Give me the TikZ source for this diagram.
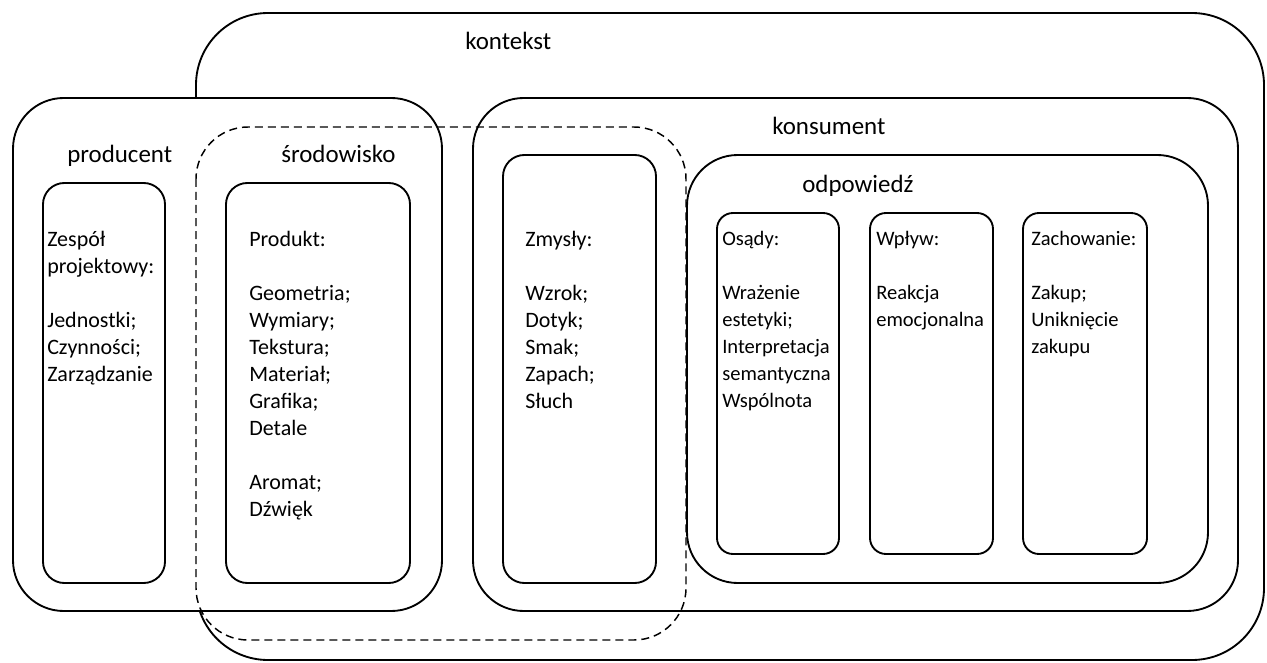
\documentclass[tikz,border=0pt]{standalone}
\usepackage{fontspec}
\setmainfont{Carlito}
\usepackage{tikz}

\begin{document}
\begin{tikzpicture}[x=0.75pt,y=0.75pt,yscale=-1,xscale=1,
	frame/.style={draw, line width=1.4pt, fill=white},
	lbl/.style={anchor=base west, inner sep=0pt, font=\fontsize{18.7}{22}\selectfont},
	txt/.style={anchor=north west, inner sep=0pt, align=left, font=\fontsize{15.4}{20.25}\selectfont, execute at begin node=\strut},
	bigtxt/.style={txt, font=\fontsize{16.5}{20.25}\selectfont}]
	\useasboundingbox (0,0) rectangle (1267,663);
	
	%Rounded Rect [kontekst]
	\draw [frame, rounded corners=54pt] (196,13) rectangle (1264,660);
	%Rounded Rect [producent]
	\draw [frame, rounded corners=38pt] (13,98) rectangle (442,611);
	%Rounded Rect [konsument]
	\draw [frame, rounded corners=38pt] (473,98) rectangle (1238,611);
	%Rounded Rect [odpowiedz]
	\draw [frame, rounded corners=38pt] (687,155) rectangle (1208,583);
	
	%Rounded Rect [zespol]
	\draw [frame, rounded corners=16pt] (43,183) rectangle (165,583);
	%Rounded Rect [produkt]
	\draw [frame, rounded corners=16pt] (226,183) rectangle (410,583);
	%Rounded Rect [zmysly]
	\draw [frame, rounded corners=16pt] (503,155) rectangle (656,583);
	%Rounded Rect [osady]
	\draw [frame, rounded corners=12pt] (717,213) rectangle (839,554);
	%Rounded Rect [wplyw]
	\draw [frame, rounded corners=12pt] (870,213) rectangle (993,554);
	%Rounded Rect [zachowanie]
	\draw [frame, rounded corners=12pt] (1023,213) rectangle (1147,554);
	
	%Rounded Rect dashed [srodowisko]
	\draw [line width=1.1pt, dash pattern=on 6pt off 3.75pt, rounded corners=39pt] (196,127) rectangle (686,640);
	
	% Text Node
	\draw (465,50) node (kontekst) [lbl] {kontekst};
	% Text Node
	\draw (67,163) node (producent) [lbl] {producent};
	% Text Node
	\draw (281,163) node (srodowisko) [lbl] {środowisko};
	% Text Node
	\draw (772,135) node (konsument) [lbl] {konsument};
	% Text Node
	\draw (802,193) node (odpowiedz) [lbl] {odpowiedź};
	
	% Text Node
	\draw (47,231) node (zespol) [bigtxt] {Zespół\\projektowy:\\[20.25pt]Jednostki;\\Czynności;\\Zarządzanie};
	% Text Node
	\draw (249,231) node (produkt) [bigtxt] {Produkt:\\[20.25pt]Geometria;\\Wymiary;\\Tekstura;\\Materiał;\\Grafika;\\Detale\\[20.25pt]Aromat;\\Dźwięk};
	% Text Node
	\draw (525,231) node (zmysly) [bigtxt] {Zmysły:\\[20.25pt]Wzrok;\\Dotyk;\\Smak;\\Zapach;\\Słuch};
	% Text Node
	\draw (722,231) node (osady) [txt] {Osądy:\\[20.25pt]Wrażenie\\estetyki;\\Interpretacja\\semantyczna\\Wspólnota};
	% Text Node
	\draw (876,231) node (wplyw) [txt] {Wpływ:\\[20.25pt]Reakcja\\emocjonalna};
	% Text Node
	\draw (1031,231) node (zachowanie) [txt] {Zachowanie:\\[20.25pt]Zakup;\\Uniknięcie\\zakupu};
	
\end{tikzpicture}
\end{document}
